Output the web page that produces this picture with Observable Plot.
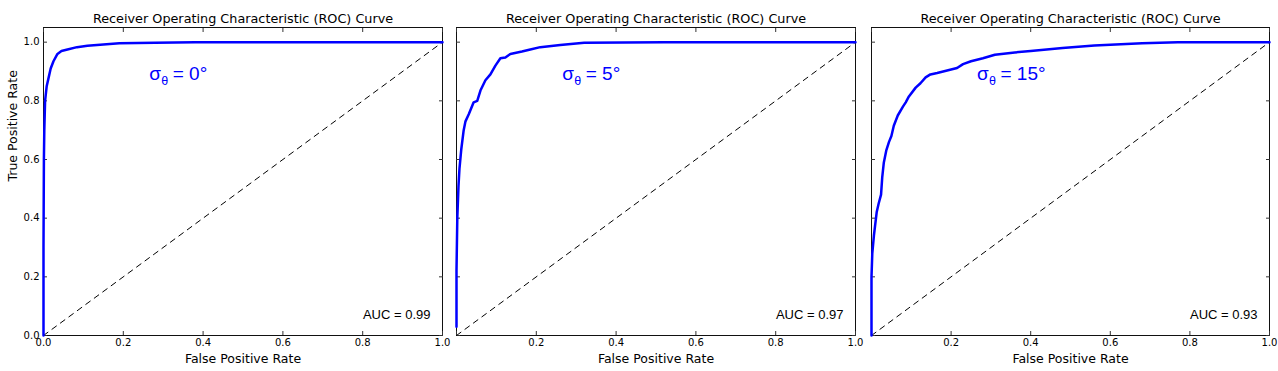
<!DOCTYPE html>
<html>
<head>
<meta charset="utf-8">
<script src="https://cdn.jsdelivr.net/npm/d3@7"></script>
<script src="https://cdn.jsdelivr.net/npm/@observablehq/plot@0.6"></script>
<style>
  body { margin: 0; background: #ffffff; }
  #wrap { position: relative; width: 1278px; height: 371px; overflow: hidden; background: #ffffff; }
  #wrap svg { position: absolute; top: 0; overflow: visible; }
</style>
</head>
<body>
<div id="wrap"></div>
<script>
// ---- data ----
const fpr0 = [0, 0, 0.001, 0.002, 0.004, 0.008, 0.013, 0.018, 0.025, 0.035, 0.045, 0.06, 0.084, 0.11, 0.15, 0.19, 0.28, 0.38, 1];
const tpr0 = [0, 0.3, 0.6, 0.7, 0.8, 0.85, 0.88, 0.91, 0.935, 0.96, 0.97, 0.975, 0.983, 0.988, 0.992, 0.996, 0.998, 1, 1];

const fpr5 = [0, 0, 0.002, 0.005, 0.0075, 0.012, 0.018, 0.0225, 0.031, 0.043, 0.052, 0.06, 0.0725, 0.085, 0.0975, 0.11, 0.1225, 0.135, 0.164, 0.185, 0.21, 0.26, 0.32, 0.52, 1];
const tpr5 = [0.03, 0.22, 0.4, 0.51, 0.57, 0.635, 0.70, 0.73, 0.755, 0.795, 0.80, 0.835, 0.87, 0.89, 0.92, 0.945, 0.948, 0.96, 0.968, 0.975, 0.983, 0.99, 0.998, 1, 1];

const fpr15 = [0, 0, 0.002, 0.006, 0.013, 0.018, 0.024, 0.027, 0.031, 0.037, 0.044, 0.05, 0.056, 0.066, 0.079, 0.086, 0.094, 0.111, 0.123, 0.136, 0.148, 0.165, 0.195, 0.215, 0.23, 0.25, 0.28, 0.31, 0.36, 0.4, 0.48, 0.56, 0.68, 0.77, 1];
const tpr15 = [0, 0.2, 0.28, 0.34, 0.42, 0.45, 0.48, 0.54, 0.59, 0.63, 0.66, 0.68, 0.715, 0.75, 0.78, 0.795, 0.815, 0.845, 0.86, 0.88, 0.89, 0.895, 0.905, 0.912, 0.925, 0.935, 0.945, 0.957, 0.965, 0.97, 0.98, 0.989, 0.996, 1, 1];

const chanceX = [0, 1];
const chanceY = [0, 1];

const sigmaValues = ["0°", "5°", "15°"];
const aucValues = ["0.99", "0.97", "0.93"];

const xTickValues = [0, 0.2, 0.4, 0.6, 0.8, 1.0];
const yTickValues = [0, 0.2, 0.4, 0.6, 0.8, 1.0];

const titleText = "Receiver Operating Characteristic (ROC) Curve";
const xLabelText = "False Positive Rate";
const yLabelText = "True Positive Rate";

// ---- layout (not data) ----
const panels = [
  {fpr: fpr0, tpr: tpr0, left: 0,   width: 448, ml: 43, mr: 6, yLabels: true,  xLabelTicks: xTickValues},
  {fpr: fpr5, tpr: tpr5, left: 448, width: 414, ml: 8,  mr: 7, yLabels: false, xLabelTicks: xTickValues.slice(1)},
  {fpr: fpr15, tpr: tpr15, left: 862, width: 416, ml: 9, mr: 9, yLabels: false, xLabelTicks: xTickValues.slice(1)}
];

const sansMath = "'Liberation Sans', Arial, sans-serif";
const wrap = document.getElementById("wrap");
const fmt = d => d.toFixed(1);

panels.forEach((p, i) => {
  const annot = [{x: 0.265, y: 0.87}];
  const aucPos = [{x: 0.97, y: 0.055, label: `AUC = ${aucValues[i]}`}];
  const marks = [
    Plot.frame({stroke: "#111", strokeWidth: 1}),
    // inward ticks on all four sides
    Plot.axisX(xTickValues, {anchor: "bottom", tickSize: 4, dy: -4, tickFormat: () => "", label: null, stroke: "#333"}),
    Plot.axisX(xTickValues, {anchor: "top", tickSize: 4, dy: 4, tickFormat: () => "", label: null, stroke: "#333"}),
    Plot.axisY(yTickValues, {anchor: "left", tickSize: 4, dx: 4, tickFormat: () => "", label: null, stroke: "#333"}),
    Plot.axisY(yTickValues, {anchor: "right", tickSize: 4, dx: -4, tickFormat: () => "", label: null, stroke: "#333"}),
    // tick labels
    Plot.axisX(p.xLabelTicks, {anchor: "bottom", tickSize: 0, tickPadding: 3, tickFormat: fmt, label: null, fontSize: 10}),
    // chance line
    Plot.line({length: chanceX.length}, {x: chanceX, y: chanceY, stroke: "black", strokeWidth: 1, strokeDasharray: "5.5,5"}),
    // ROC curve
    Plot.line({length: p.fpr.length}, {x: p.fpr, y: p.tpr, stroke: "#0000ff", strokeWidth: 2.5, strokeLinejoin: "round"}),
    // title & x label
    Plot.text([titleText], {text: d => d, frameAnchor: "top", lineAnchor: "bottom", dy: -4.5, fontSize: 12.8, fill: "black"}),
    Plot.text([xLabelText], {text: d => d, frameAnchor: "bottom", lineAnchor: "bottom", dy: 27.5, fontSize: 12.5, fill: "black"}),
    // sigma annotation
    Plot.text(annot, {x: "x", y: "y", text: () => "σ", textAnchor: "start", lineAnchor: "bottom", fontSize: 19, fontFamily: sansMath, fill: "#0000ff"}),
    Plot.text(annot, {x: "x", y: "y", text: () => "θ", textAnchor: "start", lineAnchor: "bottom", fontSize: 12.5, dx: 12, dy: 4.3, fontFamily: sansMath, fill: "#0000ff"}),
    Plot.text(annot, {x: "x", y: "y", text: () => `= ${sigmaValues[i]}`, textAnchor: "start", lineAnchor: "bottom", fontSize: 19, dx: 23.5, fontFamily: sansMath, fill: "#0000ff"}),
    // AUC
    Plot.text(aucPos, {x: "x", y: "y", text: "label", textAnchor: "end", lineAnchor: "bottom", fontSize: 13, fontFamily: sansMath, fill: "black"})
  ];
  if (p.yLabels) {
    marks.push(Plot.axisY(yTickValues, {anchor: "left", tickSize: 0, tickPadding: 4, tickFormat: fmt, label: null, fontSize: 10}));
    marks.push(Plot.text([yLabelText], {text: d => d, frameAnchor: "left", rotate: -90, lineAnchor: "bottom", dx: -26.5, fontSize: 12.5, fill: "black"}));
  }
  const chart = Plot.plot({
    width: p.width,
    height: 371,
    marginLeft: p.ml,
    marginRight: p.mr,
    marginTop: 27,
    marginBottom: 36,
    x: {domain: [0, 1]},
    y: {domain: [0, 1.05]},
    style: {fontFamily: "'DejaVu Sans', sans-serif", fontSize: "10px", background: "transparent", color: "black", overflow: "visible"},
    marks
  });
  chart.style.left = p.left + "px";
  chart.style.position = "absolute";
  chart.style.top = "0px";
  wrap.appendChild(chart);
});
</script>
</body>
</html>
